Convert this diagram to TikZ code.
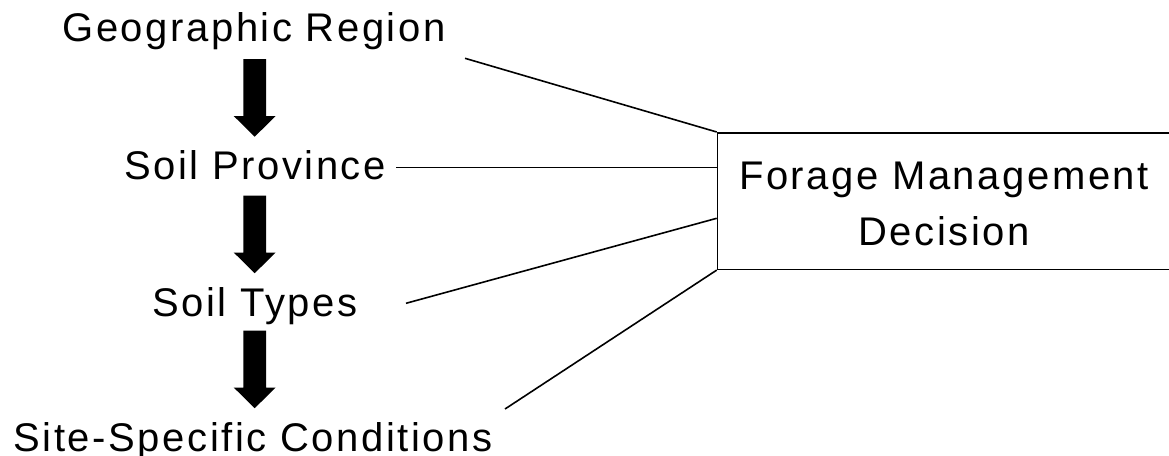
\documentclass[tikz,border=0pt]{standalone}
\usepackage{fontspec}
\setmainfont{Liberation Sans}[LetterSpace=6.4]
\begin{document}
\begin{tikzpicture}[x=1pt,y=-1pt,
  lbl/.style={anchor=base, inner sep=0pt, font=\fontsize{40}{48}\selectfont},
  conn/.style={line width=1.6pt, draw=black},
  boxstyle/.style={draw=black, line width=1.6pt, rectangle, inner sep=0pt, anchor=north west, minimum width=520pt, minimum height=136.5pt},
  downarrow/.pic={\fill[black] (-11.35,0) -- (11.35,0) -- (11.35,57) -- (21,57) -- (0,77.7) -- (-21,57) -- (-11.35,57) -- cycle;}]
\useasboundingbox (0,0) rectangle (1169,455);
\fill[white] (0,0) rectangle (1169,455);
% hierarchy labels
\node[lbl] (geo) at (254,41.7) {Geographic Region};
\node[lbl] (prov) at (255,179.3) {Soil Province};
\node[lbl] (types) at (255,316) {Soil Types};
\node[lbl] (site) at (253,451.7) {Site-Specific Conditions};
% block arrows between levels
\pic (arrA) at (254.7,59) {downarrow};
\pic (arrB) at (254.7,195.5) {downarrow};
\pic (arrC) at (254.7,330.5) {downarrow};
% decision box
\node[boxstyle] (fmd) at (716.7,132) {};
\node[lbl] (fmdA) at (944,189) {Forage Management};
\node[lbl] (fmdB) at (944,245) {Decision};
% connectors
\coordinate (gs) at (465,58.3);
\coordinate (ps) at (396,167.5);
\coordinate (ts) at (406,303.3);
\coordinate (te) at (716.7,218.3);
\coordinate (ss) at (505,409);
\draw[conn] (gs) -- (fmd.north west);
\draw[conn] (ps) -- (ps -| fmd.west);
\draw[conn] (ts) -- (te);
\draw[conn] (ss) -- (fmd.south west);
\end{tikzpicture}
\end{document}
